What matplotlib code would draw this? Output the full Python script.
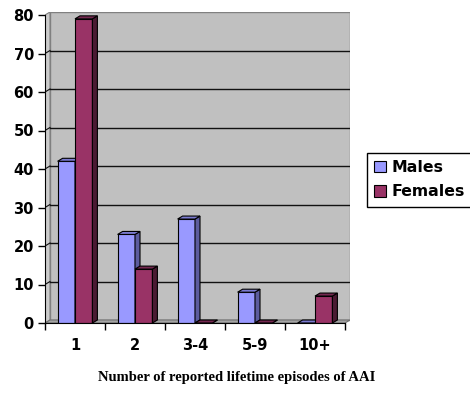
import matplotlib
matplotlib.use("Agg")
import matplotlib.pyplot as plt
from matplotlib.patches import Polygon, Patch

######## DATA ########
categories = ["1", "2", "3-4", "5-9", "10+"]
males = [42, 23, 27, 8, 0]
females = [79, 14, 0, 0, 7]
y_ticks = [0, 10, 20, 30, 40, 50, 60, 70, 80]
series_names = ["Males", "Females"]
x_title = "Number of reported lifetime episodes of AAI"

######## STYLE ########
MALE_FRONT, MALE_SIDE, MALE_TOP = "#9999ff", "#5c5c9e", "#7b7bd0"
FEM_FRONT, FEM_SIDE, FEM_TOP = "#993366", "#4a1a32", "#742850"
WALL = "#c0c0c0"
SIDE_WALL = "#cbcbcb"
FLOOR = "#a4a4a4"
W = 0.29          # bar width (category units)
DX = 5 / 60.0     # depth offset, x
DY = 3 / 3.85     # depth offset, y (value units)
YMAX = 80

fig = plt.figure(figsize=(4.7, 3.97), dpi=100)
ax = fig.add_axes([45 / 470, 74 / 397, 305 / 470, 311 / 397])
ax.set_xlim(-0.5, len(categories) - 0.5 + DX)
ax.set_ylim(0, YMAX + DY)
ax.set_facecolor("none")

x_left = -0.5
x_right = len(categories) - 0.5

# walls and floor
ax.add_patch(Polygon([(x_left + DX, DY), (x_right + DX, DY), (x_right + DX, YMAX + DY),
                      (x_left + DX, YMAX + DY)], closed=True, fc=WALL, ec="#808080", lw=1, zorder=1))
ax.add_patch(Polygon([(x_left, 0), (x_left + DX, DY), (x_left + DX, YMAX + DY), (x_left, YMAX)],
                     closed=True, fc=SIDE_WALL, ec="#808080", lw=0.8, zorder=1))
ax.add_patch(Polygon([(x_left, 0), (x_right, 0), (x_right + DX, DY), (x_left + DX, DY)],
                     closed=True, fc=FLOOR, ec="#707070", lw=0.8, zorder=1))

# gridlines on the back wall and left wall
for v in y_ticks[1:-1]:
    ax.plot([x_left + DX, x_right + DX], [v + DY, v + DY], color="#111111", lw=1, zorder=2)
    ax.plot([x_left, x_left + DX], [v, v + DY], color="#111111", lw=0.8, zorder=2)


def bar3d(x0, h, front, side, top, z):
    ax.bar(x0, h, width=W, align="edge", color=front, edgecolor="black", linewidth=0.8, zorder=z)
    ax.add_patch(Polygon([(x0 + W, 0), (x0 + W + DX, DY), (x0 + W + DX, h + DY), (x0 + W, h)],
                         closed=True, fc=side, ec="black", lw=0.8, zorder=z))
    ax.add_patch(Polygon([(x0, h), (x0 + W, h), (x0 + W + DX, h + DY), (x0 + DX, h + DY)],
                         closed=True, fc=top, ec="black", lw=0.8, zorder=z))


for i in range(len(categories)):
    bar3d(i - W, males[i], MALE_FRONT, MALE_SIDE, MALE_TOP, 3 + 2 * i)
    bar3d(i, females[i], FEM_FRONT, FEM_SIDE, FEM_TOP, 4 + 2 * i)

# axes lines and ticks
for s in ["top", "right"]:
    ax.spines[s].set_visible(False)
ax.spines["left"].set_bounds(0, YMAX)
ax.spines["bottom"].set_bounds(x_left, x_right)
ax.spines["left"].set_zorder(20)
ax.spines["bottom"].set_zorder(20)

ax.set_yticks(y_ticks)
ax.set_yticklabels([str(v) for v in y_ticks], fontsize=10.5, fontweight="bold")
ax.tick_params(axis="y", direction="out", length=5, width=1, pad=3)

ax.set_xticks([x_left + k for k in range(len(categories) + 1)])
ax.set_xticklabels([])
ax.set_xticks(range(len(categories)), minor=True)
ax.set_xticklabels(categories, minor=True, fontsize=10.5, fontweight="bold")
ax.tick_params(axis="x", which="major", direction="out", length=5, width=1)
ax.tick_params(axis="x", which="minor", length=0, pad=11)

handles = [Patch(fc=MALE_FRONT, ec="black", lw=0.8), Patch(fc=FEM_FRONT, ec="black", lw=0.8)]
fig.legend(handles, series_names, loc="upper left", bbox_to_anchor=(367 / 470, 1 - 153 / 397),
           frameon=True, fancybox=False, edgecolor="black", framealpha=1,
           prop={"weight": "bold", "size": 11.3}, borderpad=0.45, labelspacing=0.6,
           handlelength=0.75, handleheight=0.75, handletextpad=0.35, borderaxespad=0)

fig.text(237 / 470, 1 - 378 / 397, x_title, ha="center", va="center",
         family="Liberation Serif", fontweight="bold", fontsize=10.5)

fig.savefig("out.png", dpi=100)
